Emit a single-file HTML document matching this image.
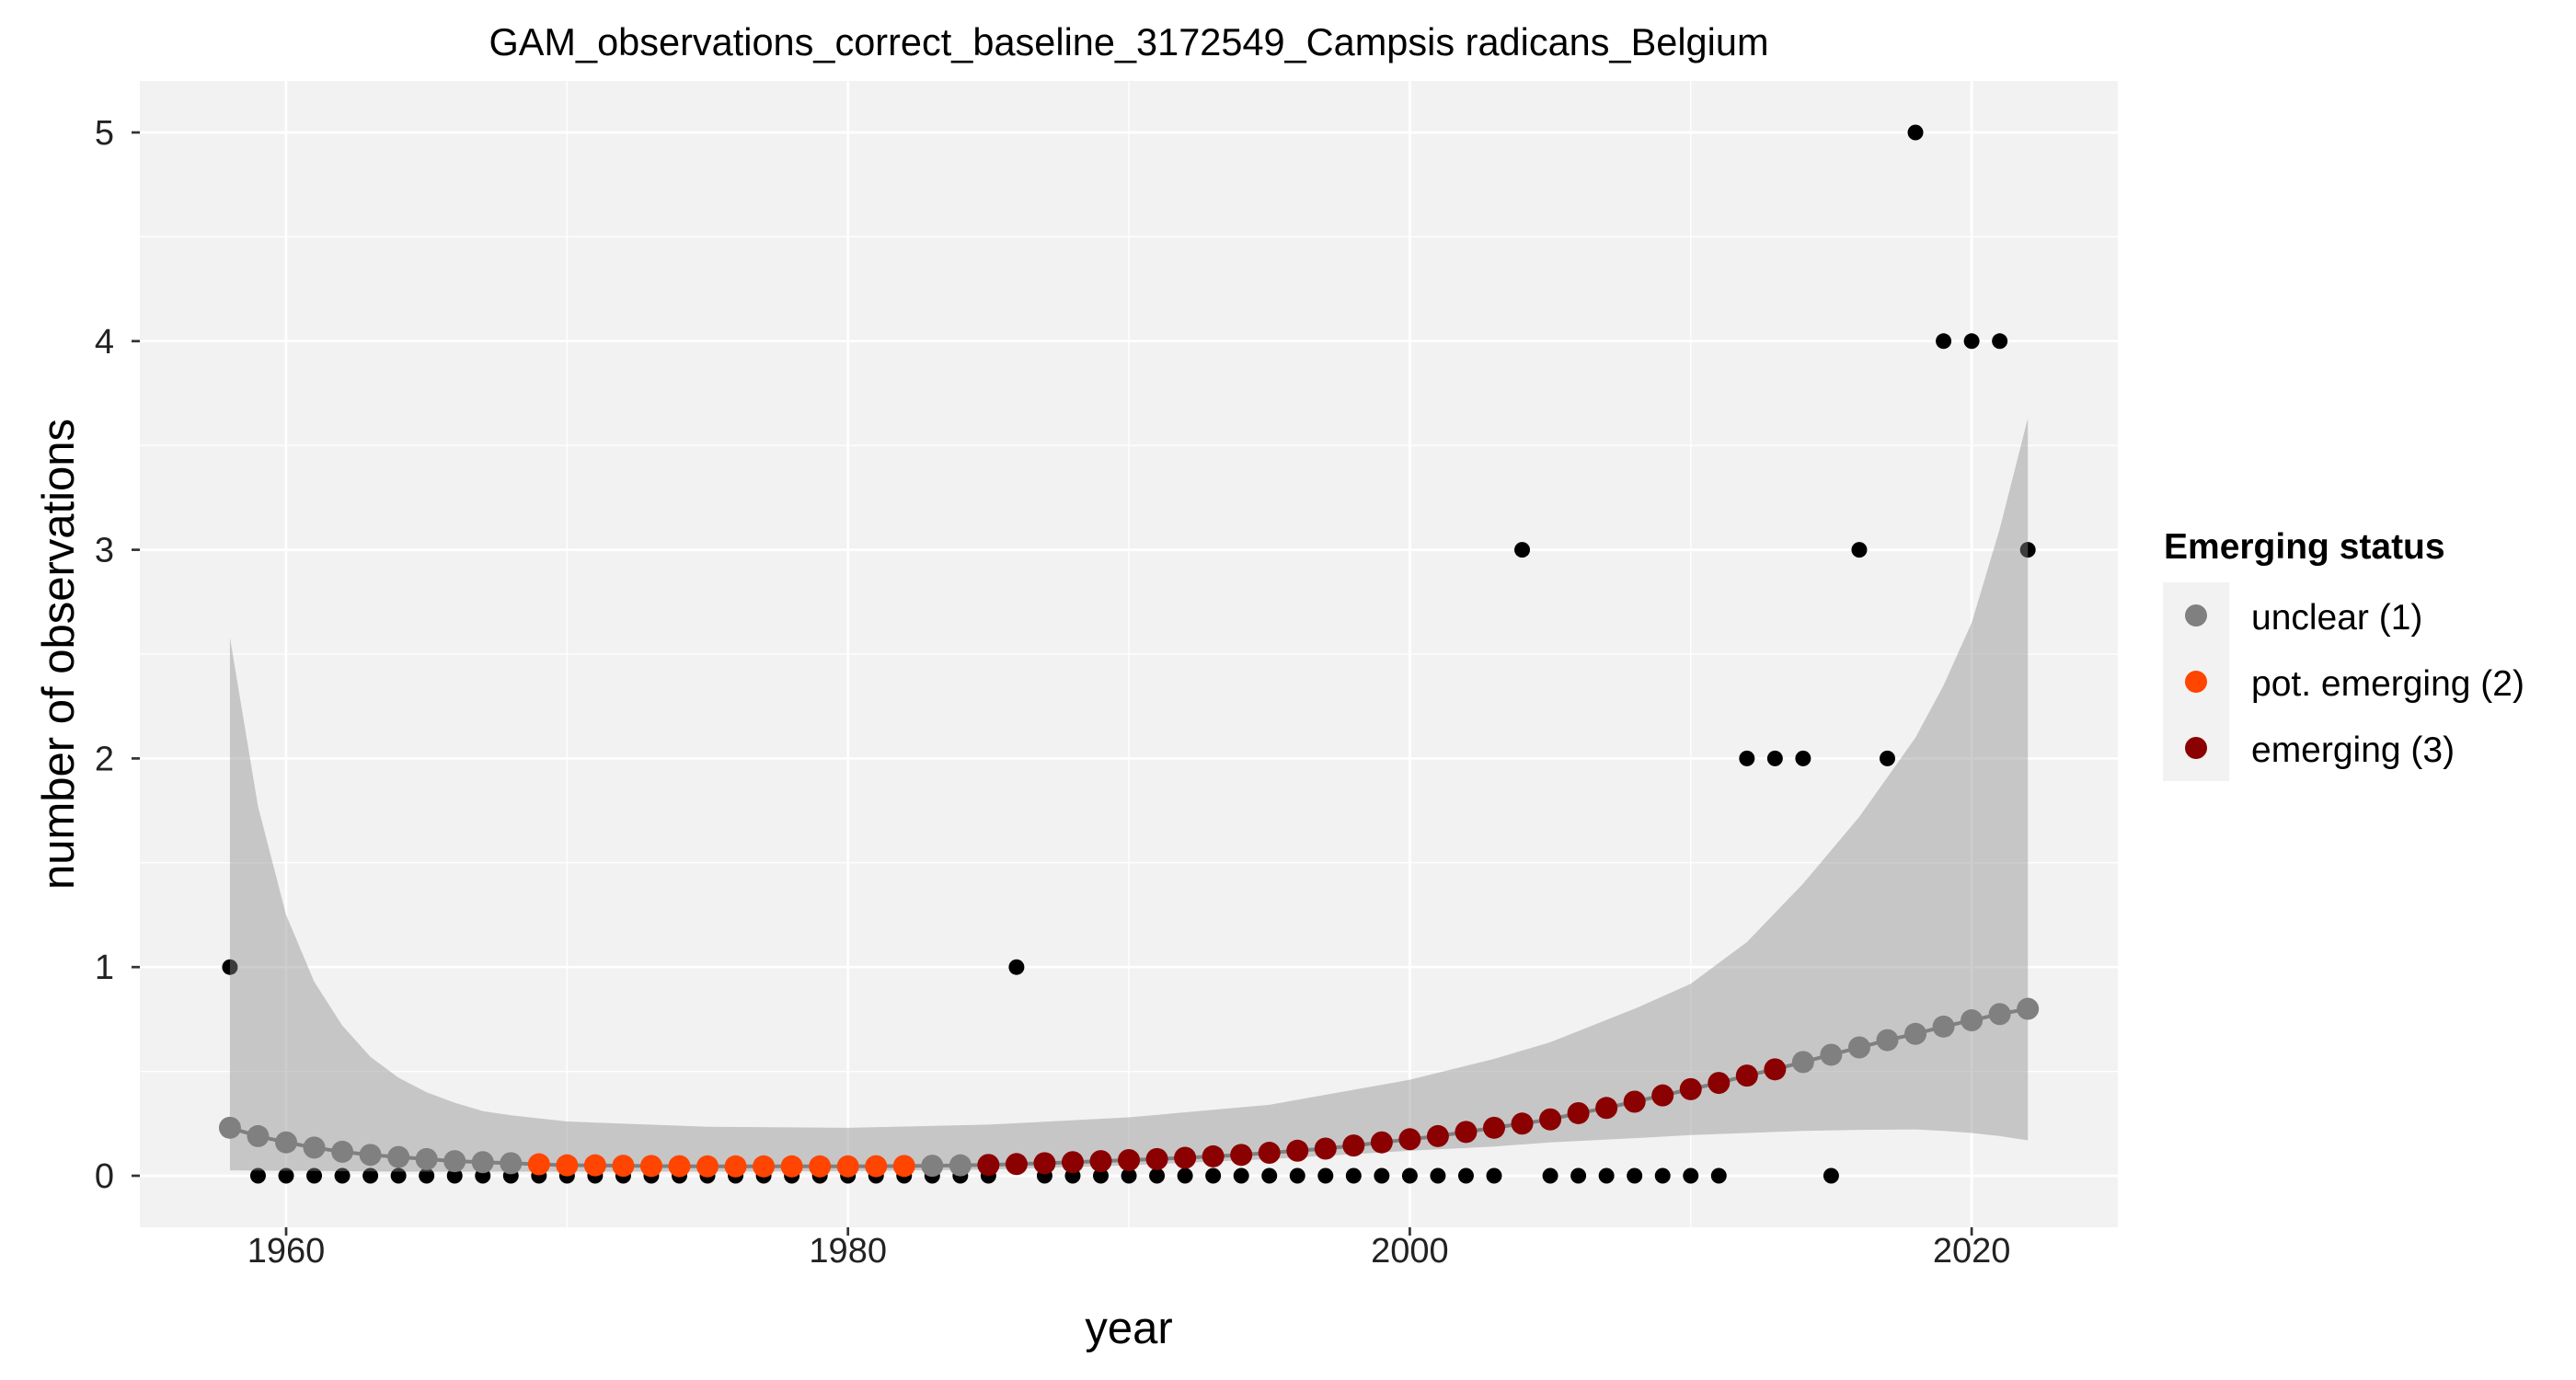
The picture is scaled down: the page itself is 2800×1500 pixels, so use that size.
<!DOCTYPE html>
<html><head><meta charset="utf-8"><style>
body{margin:0;background:#fff}
svg{display:block;font-family:"Liberation Sans",Arial,sans-serif}
</style></head><body>
<svg id="chart" width="2800" height="1500" viewBox="0 0 2800 1500" xmlns="http://www.w3.org/2000/svg">
<rect width="2800" height="1500" fill="#fff"/>
<text x="1227" y="60" font-size="41.5" text-anchor="middle">GAM_observations_correct_baseline_3172549_Campsis radicans_Belgium</text>
<rect x="152" y="88" width="2150" height="1246" fill="#f2f2f2"/>
<g id="grid"></g>
<g id="obs"></g>
<g id="ribbon"></g>
<g id="fit"></g>
<g id="axes"></g>
<text x="1227" y="1460" font-size="49" text-anchor="middle">year</text>
<text transform="translate(80,711) rotate(-90)" font-size="49" text-anchor="middle">number of observations</text>
<g>
<text x="2352" y="607" font-size="39" font-weight="bold">Emerging status</text>
<rect x="2351" y="633" width="72" height="216" fill="#f2f2f2"/>
<circle cx="2387" cy="669" r="12" fill="#808080"/>
<circle cx="2387" cy="741" r="12" fill="#ff4500"/>
<circle cx="2387" cy="813" r="12" fill="#8b0000"/>
<text x="2447" y="684" font-size="39">unclear (1)</text>
<text x="2447" y="756" font-size="39">pot. emerging (2)</text>
<text x="2447" y="828" font-size="39">emerging (3)</text>
</g>
</svg>
<script>
const obsYears=[1958,1959,1960,1961,1962,1963,1964,1965,1966,1967,1968,1969,1970,1971,1972,1973,1974,1975,1976,1977,1978,1979,1980,1981,1982,1983,1984,1985,1986,1987,1988,1989,1990,1991,1992,1993,1994,1995,1996,1997,1998,1999,2000,2001,2002,2003,2004,2005,2006,2007,2008,2009,2010,2011,2012,2013,2014,2015,2016,2017,2018,2019,2020,2021,2022];
const obsValues=[1,0,0,0,0,0,0,0,0,0,0,0,0,0,0,0,0,0,0,0,0,0,0,0,0,0,0,0,1,0,0,0,0,0,0,0,0,0,0,0,0,0,0,0,0,0,3,0,0,0,0,0,0,0,2,2,2,0,3,2,5,4,4,4,3];
const fitValues=[0.23,0.19,0.16,0.135,0.115,0.1,0.09,0.08,0.07,0.065,0.06,0.055,0.05,0.05,0.048,0.047,0.046,0.045,0.045,0.045,0.045,0.045,0.045,0.046,0.047,0.048,0.05,0.052,0.056,0.06,0.065,0.07,0.075,0.08,0.086,0.093,0.1,0.11,0.12,0.13,0.145,0.16,0.175,0.19,0.21,0.23,0.25,0.27,0.3,0.325,0.355,0.385,0.415,0.445,0.48,0.51,0.545,0.58,0.615,0.65,0.68,0.715,0.745,0.775,0.8];
const statusValues=[1,1,1,1,1,1,1,1,1,1,1,2,2,2,2,2,2,2,2,2,2,2,2,2,2,1,1,3,3,3,3,3,3,3,3,3,3,3,3,3,3,3,3,3,3,3,3,3,3,3,3,3,3,3,3,3,1,1,1,1,1,1,1,1,1];
const ribbonYears=[1958,1959,1960,1961,1962,1963,1964,1965,1966,1967,1968,1970,1975,1980,1985,1990,1995,2000,2003,2005,2008,2010,2012,2014,2016,2018,2019,2020,2021,2022];
const ribbonUpper=[2.58,1.77,1.25,0.93,0.72,0.57,0.47,0.4,0.35,0.31,0.29,0.26,0.235,0.23,0.245,0.28,0.34,0.46,0.56,0.64,0.8,0.92,1.12,1.4,1.72,2.1,2.35,2.65,3.1,3.63];
const ribbonLower=[0.026,0.025,0.024,0.023,0.022,0.021,0.02,0.02,0.02,0.02,0.02,0.02,0.02,0.022,0.03,0.05,0.08,0.12,0.14,0.16,0.18,0.195,0.205,0.215,0.22,0.222,0.215,0.205,0.19,0.17];
const xTicks=[1960,1980,2000,2020];
const xMinor=[1970,1990,2010];
const yTicks=[0,1,2,3,4,5];
const yMinor=[0.5,1.5,2.5,3.5,4.5];
const statusColors={1:'#808080',2:'#ff4500',3:'#8b0000'};
const NS='http://www.w3.org/2000/svg';
const X=v=>311+(v-1960)*30.535;
const Y=v=>1278-v*226.8;
function mk(tag,attrs,parent){const e=document.createElementNS(NS,tag);for(const k in attrs)e.setAttribute(k,attrs[k]);document.getElementById(parent).appendChild(e);return e;}
xMinor.forEach(v=>{const l=mk('line',{x1:X(v),x2:X(v),y1:88,y2:1334,stroke:'#fff','stroke-width':1.3},'grid');

});
yMinor.forEach(v=>{const l=mk('line',{x1:152,x2:2302,y1:Y(v),y2:Y(v),stroke:'#fff','stroke-width':1.3},'grid');

});
xTicks.forEach(v=>{const l=mk('line',{x1:X(v),x2:X(v),y1:88,y2:1334,stroke:'#fff','stroke-width':2.7},'grid');


const t=mk('line',{x1:X(v),x2:X(v),y1:1334,y2:1343,stroke:'#333','stroke-width':2.7},'axes');


const tx=mk('text',{x:X(v),y:1372,'font-size':38,'text-anchor':'middle',fill:'#222'},'axes');tx.textContent=v;

});
yTicks.forEach(v=>{const l=mk('line',{x1:152,x2:2302,y1:Y(v),y2:Y(v),stroke:'#fff','stroke-width':2.7},'grid');


const t=mk('line',{x1:143,x2:152,y1:Y(v),y2:Y(v),stroke:'#333','stroke-width':2.7},'axes');


const tx=mk('text',{x:124,y:Y(v)+13,'font-size':38,'text-anchor':'end',fill:'#222'},'axes');tx.textContent=v;

});
obsYears.forEach((yr,i)=>{const c=mk('circle',{cx:X(yr),cy:Y(obsValues[i]),r:8.5,fill:'#000'},'obs');

});
let d='M'+ribbonYears.map((yr,i)=>X(yr)+','+Y(ribbonUpper[i])).join('L');
for(let i=ribbonYears.length-1;i>=0;i--)d+='L'+X(ribbonYears[i])+','+Y(ribbonLower[i]);
d+='Z';
const rb=mk('path',{d:d,fill:'#8c8c8c','fill-opacity':0.43},'ribbon');


const ln=mk('polyline',{points:obsYears.map((yr,i)=>X(yr)+','+Y(fitValues[i])).join(' '),fill:'none',stroke:'#808080','stroke-width':4},'fit');


obsYears.forEach((yr,i)=>{const c=mk('circle',{cx:X(yr),cy:Y(fitValues[i]),r:12,fill:statusColors[statusValues[i]]},'fit');

});
</script>
</body></html>
